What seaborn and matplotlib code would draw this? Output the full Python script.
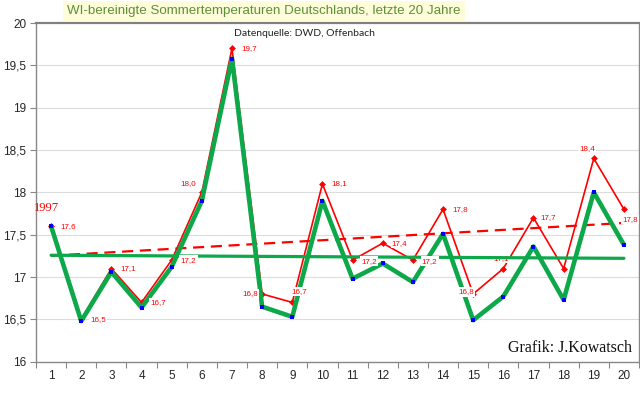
"""
WI-bereinigte Sommertemperaturen Deutschlands, letzte 20 Jahre
"""

import numpy as np
import pandas as pd
import matplotlib
matplotlib.use('Agg')
import matplotlib.pyplot as plt
import seaborn as sns

# data
jahre = list(range(1, 21))
dwd_werte = [17.6, 16.5, 17.1, 16.7, 17.2, 18.0, 19.7, 16.8, 16.7, 18.1,
             17.2, 17.4, 17.2, 17.8, 16.8, 17.1, 17.7, 17.1, 18.4, 17.8]
wi_werte = [17.60, 16.48, 17.06, 16.64, 17.12, 17.90, 19.58, 16.65, 16.53, 17.90,
            16.98, 17.16, 16.94, 17.51, 16.49, 16.77, 17.36, 16.73, 18.00, 17.38]
beschriftet = [True] * 17 + [False, True, True]
y_ticks = [16, 16.5, 17, 17.5, 18, 18.5, 19, 19.5, 20]
y_labels = ['16', '16,5', '17', '17,5', '18', '18,5', '19', '19,5', '20']

# label placement (pixels, alignment)
label_pos = [(9, 0, 'left'), (9, 0, 'left'), (9, 0, 'left'), (9, 0, 'left'),
             (9, 0, 'left'), (-6, 9, 'right'), (9, 0, 'left'), (-4, 0, 'right'),
             (-1, 11, 'left'), (9, 0, 'left'), (9, -1, 'left'), (9, 0, 'left'),
             (9, -1, 'left'), (9, 0, 'left'), (1, 2, 'right'), (-2, 10, 'center'),
             (7, 0, 'left'), (0, 0, 'left'), (1, 10, 'right'), (-2, -10, 'left')]

df = pd.DataFrame({'jahr': jahre, 'dwd': dwd_werte, 'wi': wi_werte})

sns.set_style('white')
plt.rcParams['font.family'] = ['Liberation Sans', 'DejaVu Sans']

fig = plt.figure(figsize=(6.4, 3.96), dpi=100)
ax = fig.add_axes([36 / 640, 1 - 361.7 / 396, 603 / 640, 338.7 / 396])

# grid
for yv in y_ticks[1:-1]:
    ax.axhline(yv, color='#dcdcdc', lw=0.8, zorder=0)

# trend lines
x_arr = np.array(jahre)
k_r, d_r = np.polyfit(x_arr, np.array(dwd_werte), 1)
k_g, d_g = np.polyfit(x_arr, np.array(wi_werte), 1)
trend = pd.DataFrame({'jahr': [jahre[0], jahre[-1]]})
trend['dwd'] = k_r * trend['jahr'] + d_r
trend['wi'] = k_g * trend['jahr'] + d_g

sns.lineplot(data=df, x='jahr', y='dwd', ax=ax, color='red', lw=1.2,
             marker='D', markersize=3.5, markeredgewidth=0, zorder=2)
sns.lineplot(data=trend, x='jahr', y='dwd', ax=ax, color='red', lw=1.6,
             dashes=False, zorder=2.5)
ax.lines[-1].set_dashes([5, 3])
sns.lineplot(data=df, x='jahr', y='wi', ax=ax, color='#0ca84a', lw=3.3,
             zorder=3)
sns.lineplot(data=trend, x='jahr', y='wi', ax=ax, color='#0ca84a', lw=2.3,
             zorder=3)
ax.scatter(df['jahr'], df['wi'], marker='s', s=7, color='#0000ff', zorder=4,
           linewidths=0)

# data labels
for i, (xv, yv) in enumerate(zip(jahre, dwd_werte)):
    if not beschriftet[i]:
        continue
    dx, dy, ha = label_pos[i]
    ax.annotate(f'{yv:.1f}'.replace('.', ','), (xv, yv), xytext=(dx, dy),
                textcoords='offset pixels', ha=ha, va='center', fontsize=5.8,
                color='red', zorder=2.8 if i == 15 else 5,
                bbox=dict(boxstyle='square,pad=0.15', fc='white', ec='none'))

ax.text(jahre[0] - 0.15, dwd_werte[0] + 0.14, '1997', color='red', fontsize=9,
        family='Liberation Serif', ha='center', va='bottom', zorder=5)

ax.set_xlim(0.5, 20.5)
ax.set_ylim(16, 20)
ax.set_xticks(jahre)
ax.set_xticks(np.arange(0.5, 21, 1), minor=True)
ax.set_xticklabels([str(j) for j in jahre], fontsize=8.5)
ax.set_yticks(y_ticks)
ax.set_yticklabels(y_labels, fontsize=8.5)
ax.tick_params(axis='x', which='major', length=0, pad=6)
ax.tick_params(axis='x', which='minor', length=4, width=0.8, color='#888888',
               direction='out', bottom=True)
ax.tick_params(axis='y', length=4, width=0.8, color='#888888', direction='out',
               left=True, pad=3)
ax.set_xlabel('')
ax.set_ylabel('')
for side in ['left', 'bottom', 'right']:
    ax.spines[side].set_color('#888888')
    ax.spines[side].set_linewidth(1.0)
ax.spines['top'].set_color('#808080')
ax.spines['top'].set_linewidth(1.6)

# texts
fig.text(264 / 640, 1 - 11 / 396, 'WI-bereinigte Sommertemperaturen Deutschlands, letzte 20 Jahre',
         ha='center', va='center', fontsize=9.6, color='#5e8f3a',
         bbox=dict(boxstyle='square,pad=0.3', fc='#fdfdd9', ec='none'))
ax.text(304 / 640, 1 - 33 / 396, 'Datenquelle: DWD, Offenbach', transform=fig.transFigure,
        ha='center', va='center', fontsize=7.5, family='Lato', color='#222222')
ax.text(632 / 640, 1 - 348 / 396, 'Grafik: J.Kowatsch', transform=fig.transFigure,
        ha='right', va='center', fontsize=11.5, family='Liberation Serif', color='#111111')

fig.savefig('out.png', dpi=100)
